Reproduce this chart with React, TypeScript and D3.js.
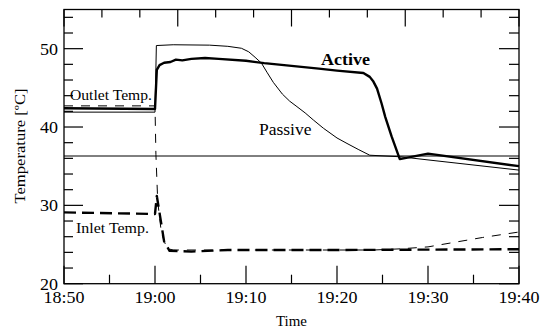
import React, { useEffect, useRef } from "react";
import * as d3 from "d3";

// time in minutes after 18:50, temperature in °C
const activeOutlet: [number, number][] = [
  [0, 42.4], [10.0, 42.3], [10.2, 47.3], [10.5, 47.9], [11, 48.2], [11.7, 48.3],
  [12.3, 48.6], [13, 48.5], [14, 48.7], [15.5, 48.8], [17, 48.7], [20, 48.45],
  [22, 48.15], [25, 47.8], [28, 47.45], [30, 47.2], [32.9, 46.9], [33.6, 46.4],
  [34.0, 45.8], [34.4, 44.9], [34.9, 43.0], [35.3, 41.3], [36.0, 38.8],
  [36.9, 35.9], [40.0, 36.6], [50, 35.0],
];
const passiveOutlet: [number, number][] = [
  [0, 41.9], [10.0, 41.9], [10.15, 50.4], [12, 50.5], [16, 50.45], [18, 50.3],
  [19.5, 50.05], [20.3, 49.6], [21, 48.9], [21.7, 48.15], [22.3, 47.0],
  [23.0, 45.7], [24.0, 44.2], [24.8, 43.3], [25.6, 42.6], [26.5, 41.8],
  [27.4, 40.9], [28.5, 39.85], [30.0, 38.6], [31.1, 37.9], [32.4, 37.1],
  [33.6, 36.4], [37, 36.2], [40, 35.8], [50, 34.5],
];
const activeInlet: [number, number][] = [
  [0, 29.1], [10.0, 28.9], [10.2, 31.2], [10.45, 29.4], [11.0, 25.4], [11.6, 24.2],
  [14, 24.1], [18, 24.3], [30, 24.3], [40, 24.35], [50, 24.4],
];
const passiveInlet: [number, number][] = [
  [0, 42.7], [10.0, 42.7], [10.1, 36.5], [10.3, 30.5], [10.7, 26.5], [11.3, 24.5],
  [12, 24.3], [34, 24.3], [37, 24.45], [40, 24.7], [43, 25.3], [46, 25.9], [50, 26.6],
];
const referenceTemp = 36.3;
const yMajorTicks = [20, 30, 40, 50];
const timeLabels = ["18:50", "19:00", "19:10", "19:20", "19:30", "19:40"];

const width = 546;
const height = 333;
const m = { left: 64, right: 27, top: 9.5, bottom: 49.3 };
// only DejaVu Serif is available as a serif, so texts are squeezed to Times widths
const font = "Liberation Serif, Tinos, Times New Roman, Times, serif";

export default function App() {
  const ref = useRef<SVGSVGElement>(null);

  useEffect(() => {
    const svg = d3.select(ref.current);
    svg.selectAll("*").remove();

    const start = new Date(2000, 0, 1, 18, 50);
    const toDate = (min: number) => new Date(start.getTime() + min * 60000);
    const x = d3
      .scaleTime()
      .domain([start, toDate(50)])
      .range([m.left, width - m.right]);
    const y = d3
      .scaleLinear()
      .domain([20, 55])
      .range([height - m.bottom, m.top]);
    // the top axis has its own division (4 majors, thirds between)
    const xTop = d3.scaleLinear().domain([0, 12]).range([m.left, width - m.right]);

    const g = svg.append("g");
    const x0 = m.left, x1 = width - m.right, y0 = height - m.bottom, y1 = m.top;

    // ticks
    const ticks = g.append("g").attr("stroke", "#000").attr("stroke-width", 1.2);
    d3.range(0, 51, 5).forEach((t) => {
      const px = x(toDate(t));
      const len = t % 10 === 0 ? 18 : 9;
      ticks.append("line").attr("x1", px).attr("x2", px).attr("y1", y0).attr("y2", y0 - len);
    });
    d3.range(0, 13, 1).forEach((t) => {
      const px = xTop(t);
      const len = t % 3 === 0 ? 17 : 8;
      ticks.append("line").attr("x1", px).attr("x2", px).attr("y1", y1).attr("y2", y1 + len);
    });
    d3.range(20, 55, 2).forEach((v) => {
      const py = y(v);
      const len = v % 10 === 0 ? 19 : 9;
      ticks.append("line").attr("x1", x0).attr("x2", x0 + len).attr("y1", py).attr("y2", py);
      ticks.append("line").attr("x1", x1).attr("x2", x1 - len - 1).attr("y1", py).attr("y2", py);
    });

    // reference line
    g.append("line")
      .attr("x1", x0).attr("x2", x1)
      .attr("y1", y(referenceTemp)).attr("y2", y(referenceTemp))
      .attr("stroke", "#000").attr("stroke-width", 1);

    const line = d3
      .line<[number, number]>()
      .x((d) => x(toDate(d[0])))
      .y((d) => y(d[1]));

    const series = [
      { data: passiveInlet, w: 1, dash: "9,8" },
      { data: activeInlet, w: 2.4, dash: "12,6" },
      { data: passiveOutlet, w: 1, dash: null },
      { data: activeOutlet, w: 2.4, dash: null },
    ];
    series.forEach((s) => {
      g.append("path")
        .attr("d", line(s.data))
        .attr("fill", "none")
        .attr("stroke", "#000")
        .attr("stroke-width", s.w)
        .attr("stroke-linejoin", "round")
        .attr("stroke-dasharray", s.dash);
    });

    // frame
    g.append("rect")
      .attr("x", x0).attr("y", y1)
      .attr("width", x1 - x0).attr("height", y0 - y1)
      .attr("fill", "none").attr("stroke", "#000").attr("stroke-width", 1.3);

    // tick labels
    const txt = g.append("g").style("font-family", font).attr("fill", "#000");
    const squeeze = (sel: any, len: number) =>
      sel.attr("textLength", len).attr("lengthAdjust", "spacingAndGlyphs");

    timeLabels.forEach((lab, i) => {
      squeeze(
        txt.append("text")
          .attr("x", x(toDate(i * 10)))
          .attr("y", 303)
          .attr("text-anchor", "middle")
          .attr("font-size", 16.5)
          .text(lab),
        41
      );
    });
    yMajorTicks.forEach((v) => {
      squeeze(
        txt.append("text")
          .attr("x", 58)
          .attr("y", y(v) + 6)
          .attr("text-anchor", "end")
          .attr("font-size", 16.5)
          .text(v),
        18
      );
    });

    squeeze(
      txt.append("text")
        .attr("x", (x0 + x1) / 2).attr("y", 326)
        .attr("text-anchor", "middle").attr("font-size", 13.8)
        .text("Time"),
      31
    );
    squeeze(
      txt.append("text")
        .attr("transform", `translate(25,146) rotate(-90)`)
        .attr("text-anchor", "middle").attr("font-size", 14.5)
        .text("Temperature [ºC]"),
      115
    );

    // annotations
    squeeze(txt.append("text").attr("x", 70).attr("y", 100).attr("font-size", 14).text("Outlet Temp."), 82);
    squeeze(txt.append("text").attr("x", 76).attr("y", 233).attr("font-size", 14).text("Inlet Temp."), 73);
    squeeze(txt.append("text").attr("x", 259).attr("y", 135).attr("font-size", 16).text("Passive"), 52.5);
    squeeze(
      txt.append("text").attr("x", 321).attr("y", 65).attr("font-size", 16.5)
        .attr("font-weight", "bold").text("Active"),
      49
    );
  }, []);

  return (
    <svg
      ref={ref}
      width={width}
      height={height}
      style={{ position: "absolute", left: 0, top: 0, background: "#fff" }}
    />
  );
}
